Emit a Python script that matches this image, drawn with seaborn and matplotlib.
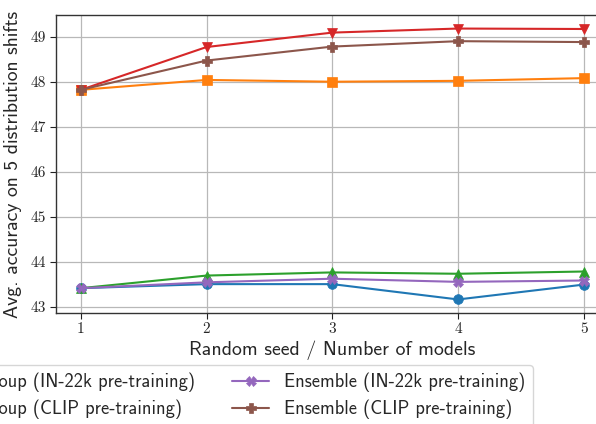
import matplotlib
matplotlib.use("Agg")
import matplotlib.pyplot as plt
import seaborn as sns
import pandas as pd

x_vals = [1, 2, 3, 4, 5]
indiv_in22k = [43.42, 43.51, 43.51, 43.17, 43.50]
indiv_clip = [47.82, 48.04, 48.00, 48.02, 48.08]
soup_in22k = [43.42, 43.70, 43.77, 43.74, 43.79]
soup_clip = [47.82, 48.77, 49.09, 49.18, 49.17]
ens_in22k = [43.42, 43.55, 43.63, 43.56, 43.59]
ens_clip = [47.82, 48.47, 48.78, 48.90, 48.88]
y_ticks = [43, 44, 45, 46, 47, 48, 49]

labels = [
    "Individual model (IN-22k pre-training)",
    "Individual model (CLIP pre-training)",
    "Greedy soup (IN-22k pre-training)",
    "Greedy soup (CLIP pre-training)",
    "Ensemble (IN-22k pre-training)",
    "Ensemble (CLIP pre-training)",
]
series = [indiv_in22k, indiv_clip, soup_in22k, soup_clip, ens_in22k, ens_clip]
markers = ["o", "s", "^", "v", "X", "P"]
colors = sns.color_palette("tab10", 6)

sns.set_style("white")
plt.rcParams["font.family"] = ["cmss10", "DejaVu Sans"]
plt.rcParams["axes.formatter.use_mathtext"] = True

fig = plt.figure(figsize=(5.96, 4.24), dpi=100)
ax = fig.add_axes([55.6 / 596, 111 / 424, (609 - 55.6) / 596, (313 - 15) / 424])

for vals, lab, mk, col in zip(series, labels, markers, colors):
    df = pd.DataFrame({"x": x_vals, "y": vals})
    sns.lineplot(data=df, x="x", y="y", ax=ax, marker=mk, color=col, label=lab,
                 linewidth=1.5, markersize=7, markeredgewidth=0.5,
                 markeredgecolor=col, legend=False)

ax.set_xticks(x_vals)
ax.set_yticks(y_ticks)
ax.set_xticklabels([str(v) for v in x_vals], family="cmr10", fontsize=11)
ax.set_yticklabels([str(v) for v in y_ticks], family="cmr10", fontsize=11)
ax.tick_params(axis="both", direction="out", length=4, width=0.8, color="#222222",
               bottom=True, left=True, pad=3)
ax.grid(True, color="#b8b8b8", linewidth=0.9)
ax.set_axisbelow(True)
for s in ax.spines.values():
    s.set_color("#333333")
    s.set_linewidth(1.0)

ax.set_xlabel("Random seed / Number of models", fontsize=14.3, labelpad=3)
ax.set_ylabel("Avg. accuracy on 5 distribution shifts", fontsize=14.2, labelpad=6)

handles, labs = ax.get_legend_handles_labels()
fig.legend(handles, labs, loc="upper right", ncol=3, fontsize=13.3,
           labelspacing=0.4,
           bbox_to_anchor=(542 / 596, (424 - 356) / 424), bbox_transform=fig.transFigure,
           frameon=True)

fig.savefig("out.png", dpi=100)
